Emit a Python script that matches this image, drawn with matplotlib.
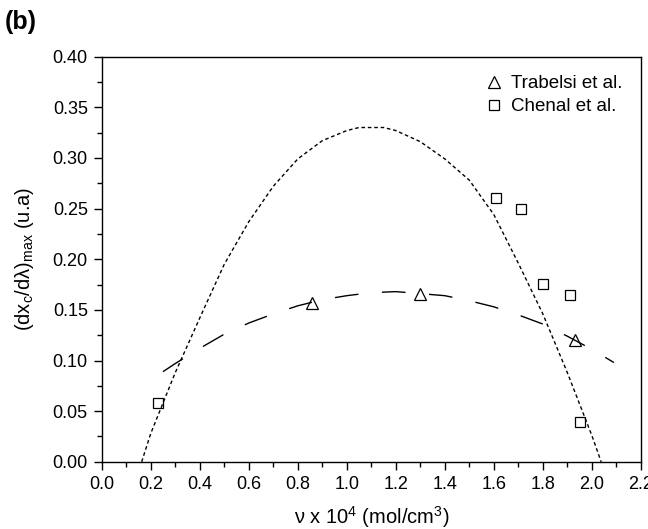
import matplotlib
matplotlib.use('Agg')
import matplotlib.pyplot as plt
from matplotlib.ticker import MultipleLocator

plt.rcParams['font.family'] = ['Liberation Sans', 'DejaVu Sans']

# experimental points
trabelsi_x = [0.86, 1.30, 1.93]
trabelsi_y = [0.157, 0.166, 0.120]
chenal_x = [0.23, 1.61, 1.71, 1.80, 1.91, 1.95]
chenal_y = [0.058, 0.260, 0.250, 0.176, 0.165, 0.039]

# dotted curve
dot_x = [0.163, 0.2, 0.3, 0.4, 0.5, 0.6, 0.7, 0.8, 0.9, 1.0, 1.05, 1.15,
         1.2, 1.3, 1.4, 1.5, 1.6, 1.7, 1.8, 1.9, 2.0, 2.038]
dot_y = [0.0, 0.028, 0.088, 0.142, 0.195, 0.237, 0.272, 0.299, 0.317, 0.327,
         0.330, 0.330, 0.327, 0.316, 0.299, 0.278, 0.244, 0.196, 0.146, 0.088, 0.026, 0.0]

# long dashed curve
dash_x = [0.25, 0.3, 0.4, 0.5, 0.6, 0.7, 0.8, 0.9, 1.0, 1.1, 1.2, 1.3, 1.4,
          1.5, 1.6, 1.7, 1.8, 1.9, 2.0, 2.09]
dash_y = [0.089, 0.097, 0.112, 0.126, 0.137, 0.146, 0.154, 0.160, 0.164, 0.167,
          0.168, 0.166, 0.164, 0.159, 0.153, 0.145, 0.136, 0.124, 0.111, 0.098]

fig = plt.figure(figsize=(6.48, 5.29), dpi=100)
ax = fig.add_axes([0.157, 0.127, 0.832, 0.766])

ax.plot(dot_x, dot_y, color='black', lw=1.0, dashes=(2.6, 2.0))
ax.plot(dash_x, dash_y, color='black', lw=1.0, dashes=(17, 17))
ax.plot(trabelsi_x, trabelsi_y, ls='none', marker='^', ms=9, mfc='none',
        mec='black', mew=0.9, label='Trabelsi et al.')
ax.plot(chenal_x, chenal_y, ls='none', marker='s', ms=7, mfc='none',
        mec='black', mew=0.9, label='Chenal et al.')

ax.set_xlim(0.0, 2.2)
ax.set_ylim(0.0, 0.40)
ax.xaxis.set_major_locator(MultipleLocator(0.2))
ax.xaxis.set_minor_locator(MultipleLocator(0.1))
ax.yaxis.set_major_locator(MultipleLocator(0.05))
ax.yaxis.set_minor_locator(MultipleLocator(0.025))
ax.xaxis.set_major_formatter(plt.FormatStrFormatter('%.1f'))
ax.yaxis.set_major_formatter(plt.FormatStrFormatter('%.2f'))
ax.tick_params(which='both', direction='out', top=False, right=False, labelsize=13, width=1)
ax.tick_params(which='major', length=6, pad=4)
ax.tick_params(which='minor', length=3.5)
for s in ax.spines.values():
    s.set_linewidth(1.0)

ax.set_xlabel('ν x 10$^\\mathregular{4}$ (mol/cm$^\\mathregular{3}$)', fontsize=14.5, labelpad=8)
ax.set_ylabel('(dx$_\\mathregular{c}$/dλ)$_\\mathregular{max}$ (u.a)', fontsize=14.5, labelpad=12)

ax.legend(loc='upper right', frameon=False, fontsize=13.5, handletextpad=0.3,
          handlelength=1.2, borderaxespad=0.6, labelspacing=0.3)

fig.text(0.008, 0.945, '(b)', fontsize=18, fontweight='bold')

fig.savefig('out.png', dpi=100)
